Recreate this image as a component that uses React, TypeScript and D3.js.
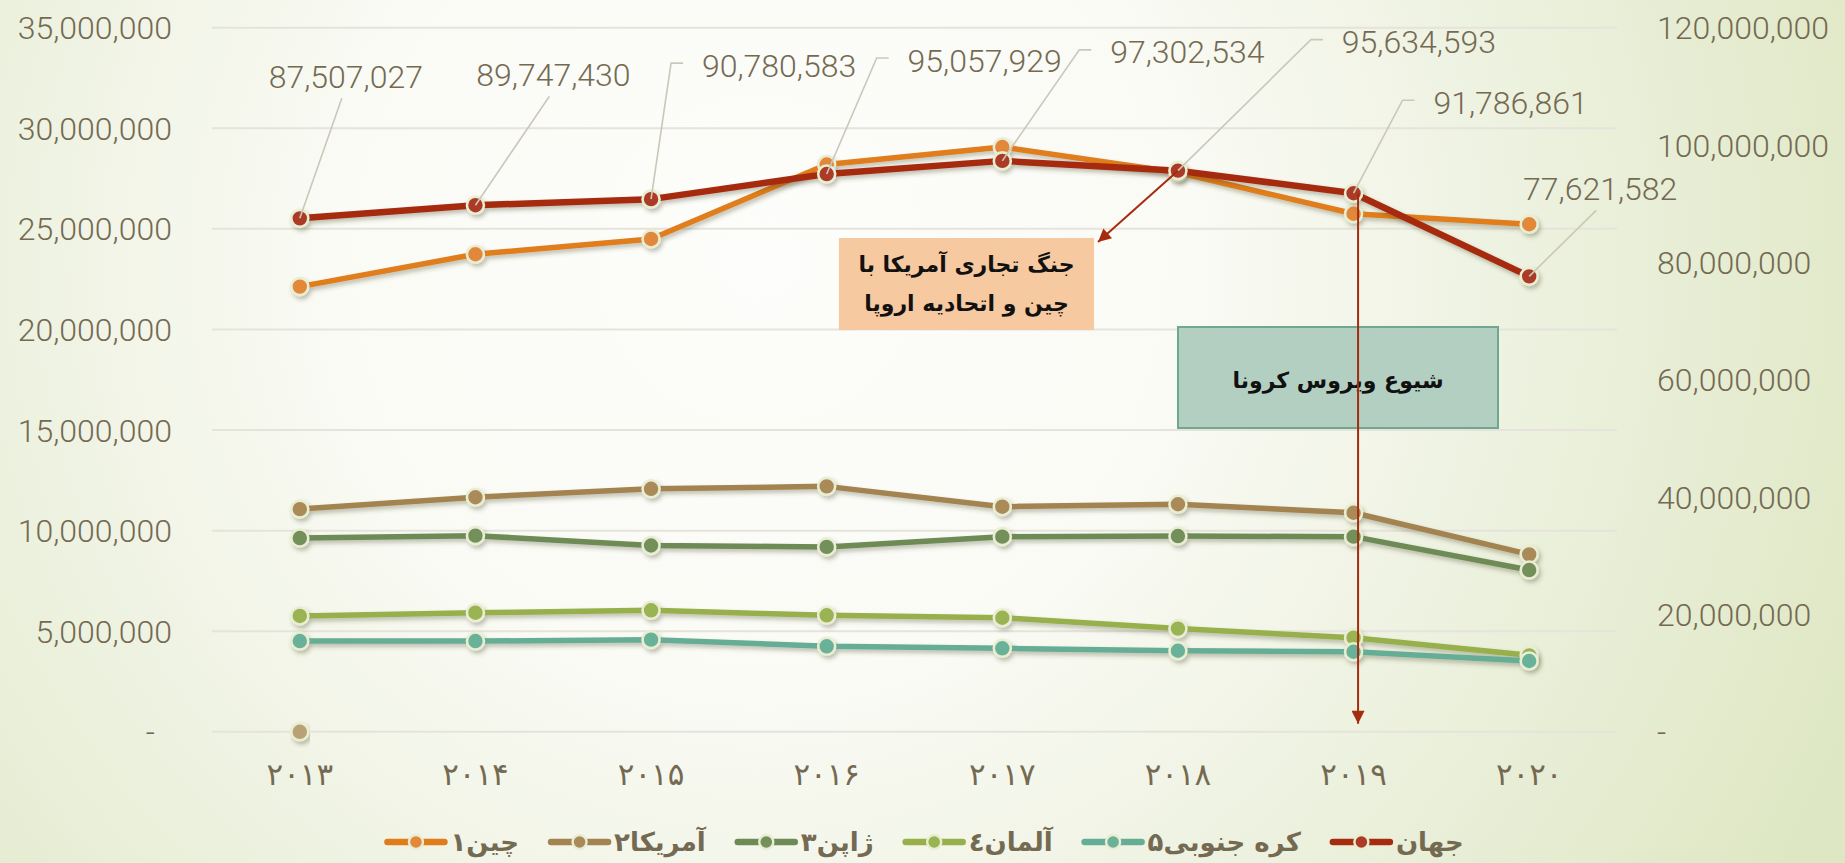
import React, { useMemo } from 'react';
import * as d3 from 'd3';

// ---------------- data ----------------
const years = ['2013', '2014', '2015', '2016', '2017', '2018', '2019', '2020'];
const yearLabels = ['۲۰۱۳', '۲۰۱۴', '۲۰۱۵', '۲۰۱۶', '۲۰۱۷', '۲۰۱۸', '۲۰۱۹', '۲۰۲۰'];

const chinaValues = [22130000, 23740000, 24500000, 28200000, 29070000, 27800000, 25750000, 25230000];
const usaValues = [11070000, 11660000, 12080000, 12200000, 11190000, 11310000, 10890000, 8820000];
const japanValues = [9630000, 9750000, 9260000, 9190000, 9700000, 9730000, 9700000, 8040000];
const germanyValues = [5760000, 5920000, 6040000, 5790000, 5670000, 5130000, 4680000, 3800000];
const koreaValues = [4510000, 4510000, 4580000, 4250000, 4150000, 4030000, 3980000, 3520000];
const worldValues = [87507027, 89747430, 90780583, 95057929, 97302534, 95634593, 91786861, 77621582];
const strayPointValues = [0]; // single marker at 2013 on the left axis

const seriesNames = ['چین۱', 'آمریکا۲', 'ژاپن۳', 'آلمان٤', 'کره جنوبی۵', 'جهان'];
const leftTicks = [0, 5000000, 10000000, 15000000, 20000000, 25000000, 30000000, 35000000];
const rightTicks = [0, 20000000, 40000000, 60000000, 80000000, 100000000, 120000000];

const tradeWarText = ['جنگ تجاری آمریکا با', 'چین و اتحادیه اروپا'];
const coronaText = 'شیوع ویروس کرونا';

// ---------------- layout / style ----------------
const W = 1845;
const H = 863;
const NUM_FONT = 'Roboto, "Liberation Sans", Arial, sans-serif';
const FA_FONT = '"DejaVu Sans", sans-serif';
const TEXT_COLOR = '#746a52';

const colors = {
  china: { line: '#e07d1b', fill: '#e2883a' },
  usa: { line: '#a3834f', fill: '#a98a58' },
  japan: { line: '#6e8a55', fill: '#738f5a' },
  germany: { line: '#97b04b', fill: '#9ab352' },
  korea: { line: '#66ad95', fill: '#6bb19a' },
  world: { line: '#a62c0f', fill: '#ab3a27' },
};

// label offsets relative to the labelled point (world series)
const labelLayout = [
  { dx: 46, dy: -142, tick: false },
  { dx: 78, dy: -131, tick: false },
  { dx: 128, dy: -134, tick: true },
  { dx: 158, dy: -114, tick: true },
  { dx: 185, dy: -109, tick: true },
  { dx: 241, dy: -129, tick: true },
  { dx: 157, dy: -91, tick: true },
  { dx: 71, dy: -88, tick: false },
];

const fmt = d3.format(',');
const tickText = (v: number) => (v === 0 ? '-' : fmt(v));

function measure(text: string, font: string): number {
  if (typeof document === 'undefined') return text.length * 12;
  const c = document.createElement('canvas');
  const ctx = c.getContext('2d');
  if (!ctx) return text.length * 12;
  ctx.font = font;
  return ctx.measureText(text).width;
}

export default function App() {
  const x = d3.scalePoint<string>().domain(years).range([212, 1617]).padding(0.5);
  const yL = d3.scaleLinear().domain([0, 35000000]).range([731.8, 27.7]);
  const yR = d3.scaleLinear().domain([0, 120000000]).range([731.8, 27.7]);

  const leftSeries = [
    { key: 'china', values: chinaValues, c: colors.china, w: 5.5 },
    { key: 'usa', values: usaValues, c: colors.usa, w: 5.5 },
    { key: 'japan', values: japanValues, c: colors.japan, w: 5.5 },
    { key: 'germany', values: germanyValues, c: colors.germany, w: 5.5 },
    { key: 'korea', values: koreaValues, c: colors.korea, w: 5.5 },
  ];

  const lineL = d3
    .line<number>()
    .x((_, i) => x(years[i]) as number)
    .y((d) => yL(d));
  const lineR = d3
    .line<number>()
    .x((_, i) => x(years[i]) as number)
    .y((d) => yR(d));

  const legendItems = [colors.china, colors.usa, colors.japan, colors.germany, colors.korea, colors.world];
  const LEG_FONT_SIZE = 26;
  const legendLayout = useMemo(() => {
    const lineLen = 57;
    const gap1 = 6;
    const gap2 = 32;
    const widths = seriesNames.map((n) => measure(n, `bold ${LEG_FONT_SIZE}px "DejaVu Sans"`));
    const total = widths.reduce((a, b) => a + b, 0) + seriesNames.length * (lineLen + gap1) + (seriesNames.length - 1) * gap2;
    let cur = 925.6 - total / 2;
    return widths.map((w) => {
      const item = { x0: cur, tx: cur + lineLen + gap1 + w / 2 };
      cur += lineLen + gap1 + w + gap2;
      return item;
    });
  }, []);

  const marker = (cx: number, cy: number, fill: string, key: string) => (
    <circle key={key} cx={cx} cy={cy} r={8.5} fill={fill} stroke="#e9edd2" strokeWidth={2.6} />
  );

  const wx = (i: number) => x(years[i]) as number;
  const wy = (i: number) => yR(worldValues[i]);

  // annotation boxes
  const orangeBox = { x: 839, y: 238, w: 255, h: 92 };
  const tealBox = { x: 1178, y: 327, w: 320, h: 101 };

  return (
    <svg
      width={W}
      height={H}
      viewBox={`0 0 ${W} ${H}`}
      style={{ position: 'absolute', left: 0, top: 0, display: 'block' }}
    >
      <defs>
        <radialGradient id="bg" cx={760} cy={260} r={1200} gradientUnits="userSpaceOnUse">
          <stop offset="0" stopColor="#fdfdfb" />
          <stop offset="0.35" stopColor="#fafbf5" />
          <stop offset="0.62" stopColor="#eef2e1" />
          <stop offset="1" stopColor="#dee7c3" />
        </radialGradient>
        <filter id="shadow" x="-5%" y="-30%" width="110%" height="170%">
          <feDropShadow dx="2" dy="3" stdDeviation="2" floodColor="#404020" floodOpacity="0.32" />
        </filter>
        <marker
          id="arrow"
          viewBox="0 0 10 10"
          refX={10}
          refY={5}
          markerWidth={16}
          markerHeight={13}
          markerUnits="userSpaceOnUse"
          orient="auto"
        >
          <path d="M0,0 L10,5 L0,10 z" fill={colors.world.line} />
        </marker>
      </defs>

      <rect x={0} y={0} width={W} height={H} fill="url(#bg)" />

      {/* gridlines */}
      <g>
        {leftTicks.map((t) => (
          <line key={t} x1={212} x2={1617} y1={yL(t)} y2={yL(t)} stroke="#e5e3db" strokeWidth={2} />
        ))}
      </g>

      {/* axis labels */}
      <g fontFamily={NUM_FONT} fontSize={32} fontWeight={300} fill={TEXT_COLOR}>
        {leftTicks.map((t) => (
          <text key={t} x={t === 0 ? 155 : 172} y={yL(t) + 11.5} textAnchor="end">
            {tickText(t)}
          </text>
        ))}
        {rightTicks.map((t) => (
          <text key={'r' + t} x={1657} y={yR(t) + 11.5} textAnchor="start">
            {tickText(t)}
          </text>
        ))}
      </g>

      {/* x axis labels */}
      <g fontFamily={FA_FONT} fontSize={31} fill={TEXT_COLOR}>
        {years.map((yv, i) => (
          <text key={yv} x={x(yv) as number} y={785} textAnchor="middle">
            {yearLabels[i]}
          </text>
        ))}
      </g>

      {/* left-axis series */}
      {leftSeries.map((s) => (
        <g key={s.key} filter="url(#shadow)">
          <path d={lineL(s.values) || ''} fill="none" stroke={s.c.line} strokeWidth={s.w} strokeLinejoin="round" />
          {s.values.map((v, i) => marker(x(years[i]) as number, yL(v), s.c.fill, s.key + i))}
        </g>
      ))}

      {/* stray marker */}
      <g filter="url(#shadow)">
        {strayPointValues.map((v, i) => marker(x(years[i]) as number, yL(v), '#b9a174', 'stray' + i))}
      </g>

      {/* world series (right axis) */}
      <g filter="url(#shadow)">
        <path d={lineR(worldValues) || ''} fill="none" stroke={colors.world.line} strokeWidth={6.5} strokeLinejoin="round" />
        {worldValues.map((v, i) => marker(wx(i), yR(v), colors.world.fill, 'w' + i))}
      </g>

      {/* data labels with leader lines */}
      <g>
        {worldValues.map((v, i) => {
          const L = labelLayout[i];
          const px = wx(i);
          const py = wy(i);
          const cx = px + L.dx;
          const cy = py + L.dy;
          const left = cx - 78;
          return (
            <g key={'lab' + i}>
              {L.tick ? (
                <polyline
                  points={`${left - 18},${cy - 2} ${left - 30},${cy - 2} ${px},${py}`}
                  fill="none"
                  stroke="#cbc7b9"
                  strokeWidth={1.6}
                />
              ) : (
                <line x1={cx - 4} y1={cy + 22} x2={px} y2={py} stroke="#cbc7b9" strokeWidth={1.6} />
              )}
              <text
                x={cx}
                y={cy + 11.5}
                textAnchor="middle"
                fontFamily={NUM_FONT}
                fontSize={32}
                fontWeight={300}
                fill={TEXT_COLOR}
              >
                {fmt(v)}
              </text>
            </g>
          );
        })}
      </g>

      {/* trade war annotation */}
      <rect x={orangeBox.x} y={orangeBox.y} width={orangeBox.w} height={orangeBox.h} fill="#f6c9a0" />
      {tradeWarText.map((t, i) => (
        <text
          key={t}
          x={orangeBox.x + orangeBox.w / 2}
          y={orangeBox.y + 34 + i * 39}
          textAnchor="middle"
          fontFamily={FA_FONT}
          fontWeight="bold"
          fontSize={22}
          fill="#111"
        >
          {t}
        </text>
      ))}
      <line
        x1={wx(5)}
        y1={wy(5)}
        x2={orangeBox.x + orangeBox.w + 4}
        y2={orangeBox.y + 4}
        stroke={colors.world.line}
        strokeWidth={2}
        markerEnd="url(#arrow)"
      />

      {/* corona annotation */}
      <rect
        x={tealBox.x}
        y={tealBox.y}
        width={tealBox.w}
        height={tealBox.h}
        fill="#b3cfc1"
        stroke="#6ea98f"
        strokeWidth={2}
      />
      <text
        x={tealBox.x + tealBox.w / 2}
        y={tealBox.y + 61}
        textAnchor="middle"
        fontFamily={FA_FONT}
        fontWeight="bold"
        fontSize={22}
        fill="#111"
      >
        {coronaText}
      </text>
      <line
        x1={wx(6) + 4.5}
        y1={wy(6)}
        x2={wx(6) + 4.5}
        y2={yL(0) - 8}
        stroke={colors.world.line}
        strokeWidth={2}
        markerEnd="url(#arrow)"
      />

      {/* legend */}
      <g>
        {seriesNames.map((n, i) => {
          const it = legendLayout[i];
          const c = legendItems[i];
          return (
            <g key={n}>
              <line x1={it.x0} x2={it.x0 + 57} y1={842} y2={842} stroke={c.line} strokeWidth={6.5} strokeLinecap="round" />
              <circle cx={it.x0 + 28.5} cy={842} r={7} fill={c.fill} stroke="#e9edd2" strokeWidth={2.4} />
              <text
                x={it.tx}
                y={851}
                textAnchor="middle"
                fontFamily={FA_FONT}
                fontWeight="bold"
                fontSize={LEG_FONT_SIZE}
                fill={TEXT_COLOR}
              >
                {n}
              </text>
            </g>
          );
        })}
      </g>
    </svg>
  );
}
